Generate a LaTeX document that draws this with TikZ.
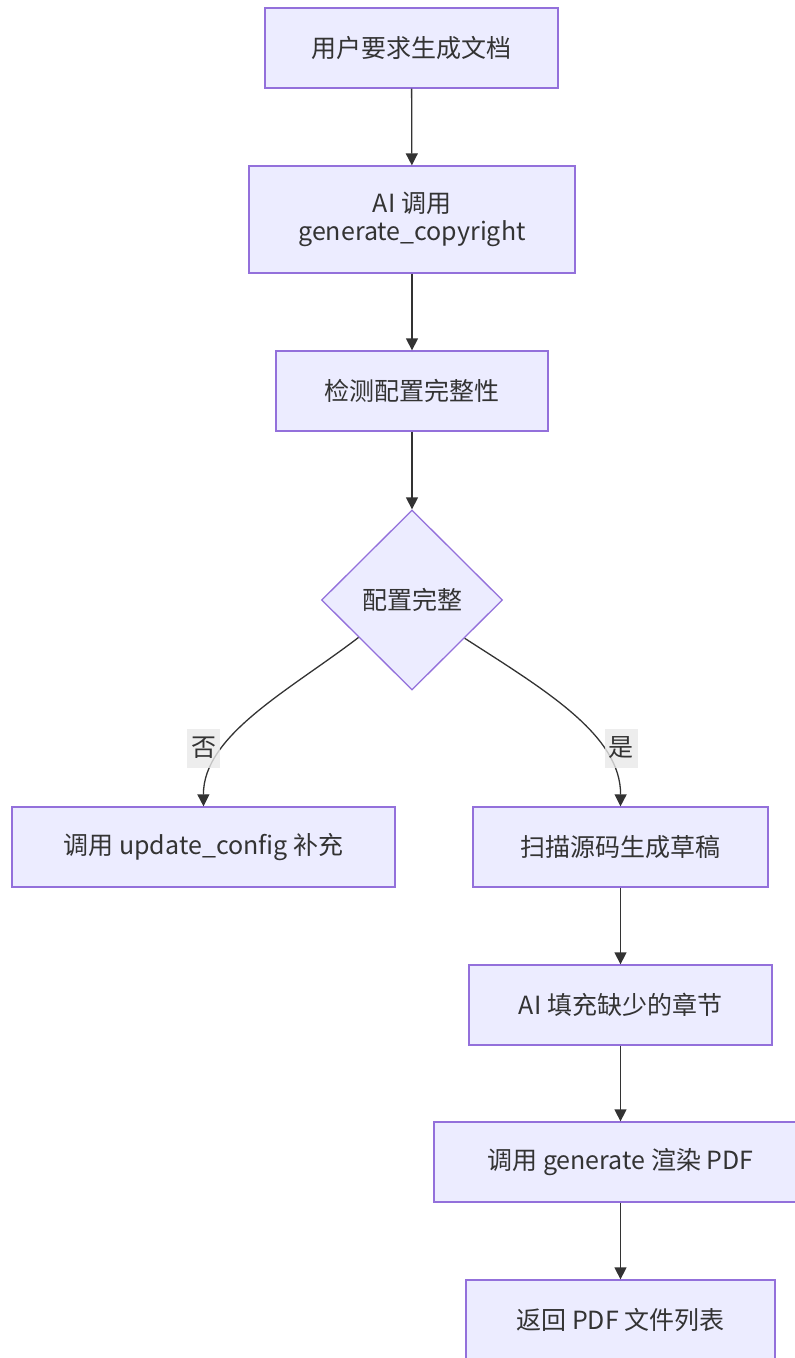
\documentclass[tikz,border=0pt]{standalone}
\usepackage{fontspec}
\setmainfont{Noto Sans CJK SC}
\usetikzlibrary{shapes.geometric,arrows.meta}
\definecolor{boxfill}{HTML}{ECECFF}
\definecolor{boxline}{HTML}{9370DB}
\definecolor{ink}{HTML}{333333}
\definecolor{labelbg}{HTML}{E8E8E8}
\tikzset{
  x=1pt, y=-1pt,
  every node/.style={font=\fontsize{25}{28}\selectfont, text=ink},
  procbox/.style={draw=boxline, fill=boxfill, line width=1.3pt, inner sep=0pt,
    minimum height=80pt, align=center},
  decision/.style={diamond, draw=boxline, fill=boxfill, line width=1.3pt, inner sep=0pt,
    minimum width=181pt, minimum height=180pt},
  flow/.style={draw=ink, line width=1.3pt, -{Triangle[width=12pt,length=12pt]}},
  edgelabel/.style={fill=labelbg, fill opacity=0.8, text opacity=1, inner sep=2pt,
    minimum height=39pt, minimum width=33pt}
}
\begin{document}
\begin{tikzpicture}
\clip (0,0) rectangle (795,1358);
\useasboundingbox (0,0) rectangle (795,1358);

% main column
\node[procbox, minimum width=293pt] (req) at (411.5,48) {用户要求生成文档};
\node[procbox, minimum width=326pt, minimum height=107pt] (call) at (412,219.5)
  {AI 调用\\generate\_copyright};
\node[procbox, minimum width=272pt] (check) at (412,391) {检测配置完整性};
\node[decision] (ok) at (412,600) {配置完整};

% branches
\node[procbox, minimum width=383pt] (upd) at (203.5,847) {调用 update\_config 补充};
\node[procbox, minimum width=295pt] (scan) at (620.5,847) {扫描源码生成草稿};
\node[procbox, minimum width=303pt] (fill) at (620.5,1005) {AI 填充缺少的章节};
\node[procbox, minimum width=373pt] (render) at (620.5,1162) {调用 generate 渲染 PDF};
\node[procbox, minimum width=309pt] (ret) at (620.5,1320) {返回 PDF 文件列表};

% straight connectors
\draw[flow] (req) -- (call);
\draw[flow] (call) -- (check);
\draw[flow] (check) -- (ok);
\draw[flow] (scan) -- (fill);
\draw[flow] (fill) -- (render);
\draw[flow] (render) -- (ret);

% curved decision branches
\draw[flow] (ok.215.6) .. controls (290,690) and (203,735) .. (upd.north);
\draw[flow] (ok.324.4) .. controls (545,690) and (621,735) .. (scan.north);

% branch labels
\node[edgelabel] (no) at (203.5,748) {否};
\node[edgelabel] (yes) at (621,748) {是};
\end{tikzpicture}
\end{document}
